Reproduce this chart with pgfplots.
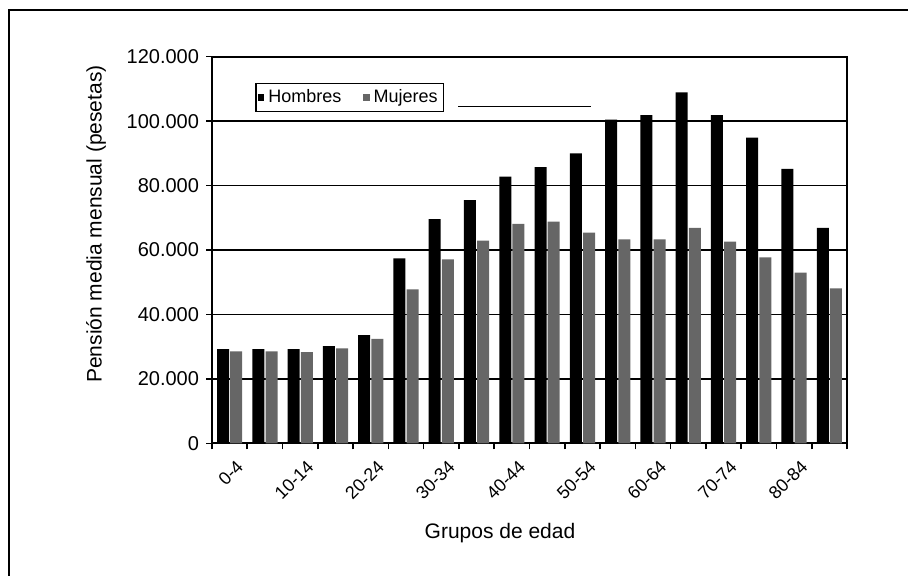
\documentclass[border=0pt]{standalone}
\usepackage{fontspec}
\setmainfont{Liberation Sans}
\usepackage{pgfplots}
\pgfplotsset{compat=1.18}
\begin{document}
\begin{tikzpicture}
\useasboundingbox (0,0) rectangle (454bp,288bp);
\draw[line width=1bp] (4.5bp,0) -- (4.5bp,283bp) -- (454bp,283bp);
\begin{axis}[
  at={(106bp,66.35bp)}, anchor=south west,
  scale only axis, width=317.5bp, height=193.3bp,
  xmin=-0.5, xmax=17.5, ymin=0, ymax=120000,
  ybar, bar width=6bp,
  xtick={0,2,...,16},
  xticklabels={0-4,10-14,20-24,30-34,40-44,50-54,60-64,70-74,80-84},
  major x tick style={draw=none},
  minor xtick={-0.5,0.5,...,17.5},
  minor tick length=3bp,
  major tick length=3bp,
  tick align=outside,
  tick pos=left,
  tick style={black, line width=0.8bp},
  x tick label style={rotate=45, anchor=north east, yshift=-2bp, xshift=2bp,
    font=\fontsize{9bp}{11bp}\selectfont},
  ytick={0,20000,...,120000},
  scaled y ticks=false,
  y tick label style={font=\fontsize{10bp}{12bp}\selectfont,
    /pgf/number format/fixed, /pgf/number format/1000 sep={.}},
  /pgf/number format/assume math mode=true,
  ymajorgrids, grid style={black, line width=0.9bp},
  axis line style={black, line width=1bp},
  xlabel={Grupos de edad},
  xlabel style={at={(axis description cs:0.4535,0)}, anchor=center, yshift=-44.85bp,
    font=\fontsize{10.5bp}{12bp}\selectfont},
  ylabel={Pensión media mensual (pesetas)},
  ylabel style={at={(axis description cs:0,0.567)}, anchor=center, yshift=58bp,
    font=\fontsize{10.5bp}{12bp}\selectfont},
  legend columns=2,
  legend style={at={(0.068,0.932)}, anchor=north west, draw=black, line width=0.75bp,
    font=\fontsize{9bp}{10bp}\selectfont, inner sep=1bp,
    /tikz/every even column/.append style={column sep=9bp}},
  legend image code/.code={\fill[#1] (0bp,-1.8bp) rectangle (3.2bp,1.8bp);},
]
\addplot[fill=black, draw=none, bar shift=-3.3bp] coordinates {
(0,29200) (1,29200) (2,29200) (3,30200) (4,33600) (5,57400) (6,69600) (7,75500) (8,82800)
(9,85700) (10,90000) (11,100500) (12,101900) (13,108900) (14,101900) (15,94900) (16,85200) (17,66900)};
\addplot[fill=black!60, draw=none, bar shift=3.3bp] coordinates {
(0,28500) (1,28500) (2,28300) (3,29500) (4,32400) (5,47800) (6,57100) (7,62900) (8,68100)
(9,68800) (10,65400) (11,63300) (12,63300) (13,66900) (14,62600) (15,57700) (16,53000) (17,48100)};
\legend{Hombres, Mujeres\hspace{9bp}}
\end{axis}
\draw[line width=0.75bp] (229bp,234.75bp) -- (295.5bp,234.75bp);
\end{tikzpicture}
\end{document}
